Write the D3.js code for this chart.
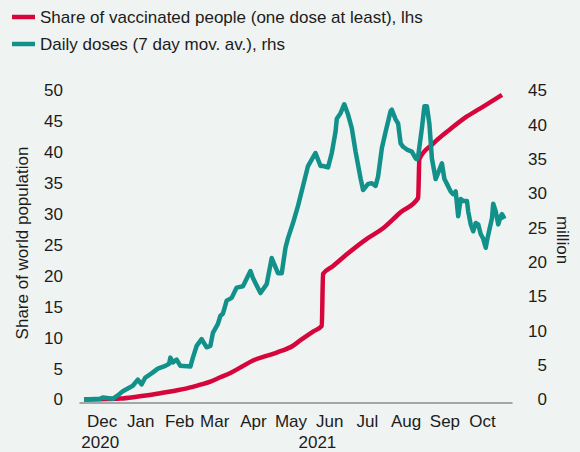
<!DOCTYPE html>
<html>
<head>
<meta charset="utf-8">
<script src="https://cdn.jsdelivr.net/npm/d3@7"></script>
<style>
  html, body { margin: 0; padding: 0; background: #eff3f2; }
  svg { display: block; font-family: "Liberation Sans", Arial, sans-serif; }
</style>
</head>
<body>
<svg id="chart" width="580" height="452"></svg>
<script>
// ---- Data ----
const shareDates = ["2020-12-01","2020-12-14","2020-12-30","2021-01-12","2021-01-25","2021-02-08","2021-02-21","2021-03-04","2021-03-12","2021-03-20","2021-03-28","2021-04-06","2021-04-15","2021-04-25","2021-05-04","2021-05-17","2021-05-23","2021-06-02","2021-06-09","2021-06-10","2021-06-18","2021-06-29","2021-07-15","2021-07-28","2021-08-11","2021-08-25","2021-08-26","2021-09-06","2021-09-20","2021-10-03","2021-10-16","2021-10-31"];
const shareValues = [0,0.05,0.16,0.45,0.8,1.3,1.8,2.4,2.9,3.6,4.3,5.3,6.3,7.0,7.6,8.7,9.6,11.0,11.9,20.3,21.6,23.5,26.0,27.7,30.3,32.6,38.9,41.4,43.8,45.8,47.4,49.3];

const dosesDates = ["2020-12-01","2020-12-14","2020-12-16","2020-12-24","2020-12-28","2021-01-01","2021-01-05","2021-01-09","2021-01-13","2021-01-16","2021-01-19","2021-01-24","2021-01-29","2021-02-04","2021-02-07","2021-02-08","2021-02-10","2021-02-13","2021-02-16","2021-02-24","2021-02-26","2021-03-01","2021-03-05","2021-03-09","2021-03-12","2021-03-14","2021-03-18","2021-03-20","2021-03-22","2021-03-25","2021-03-29","2021-04-02","2021-04-07","2021-04-13","2021-04-15","2021-04-21","2021-04-26","2021-04-30","2021-05-05","2021-05-08","2021-05-11","2021-05-13","2021-05-17","2021-05-21","2021-05-25","2021-05-29","2021-06-04","2021-06-05","2021-06-08","2021-06-10","2021-06-14","2021-06-17","2021-06-20","2021-06-21","2021-06-24","2021-06-27","2021-06-30","2021-07-03","2021-07-06","2021-07-10","2021-07-12","2021-07-16","2021-07-19","2021-07-22","2021-07-24","2021-07-27","2021-07-30","2021-08-03","2021-08-04","2021-08-07","2021-08-09","2021-08-11","2021-08-13","2021-08-16","2021-08-20","2021-08-23","2021-08-24","2021-08-25","2021-08-28","2021-08-30","2021-09-01","2021-09-03","2021-09-05","2021-09-08","2021-09-10","2021-09-13","2021-09-15","2021-09-17","2021-09-20","2021-09-22","2021-09-24","2021-09-26","2021-09-28","2021-09-30","2021-10-03","2021-10-04","2021-10-06","2021-10-08","2021-10-10","2021-10-12","2021-10-14","2021-10-16","2021-10-18","2021-10-19","2021-10-21","2021-10-23","2021-10-24","2021-10-26","2021-10-28","2021-10-30","2021-10-31","2021-11-02"];
const dosesValues = [0,0.1,0.3,0.1,0.6,1.2,1.6,2.0,2.9,2.2,3.2,3.8,4.5,4.9,5.2,6.1,5.4,5.8,4.9,4.8,6.1,7.8,8.8,7.6,7.8,9.7,11.0,12.2,12.5,14.4,14.8,16.3,16.5,18.7,17.7,15.5,16.8,20.6,18.4,18.4,22.1,23.5,25.7,28.2,31.1,34.0,35.9,35.4,34.0,34.0,33.8,35.9,39.0,40.9,41.7,43.0,41.5,39.5,36.1,32.2,30.5,31.4,31.5,31.1,32.5,36.6,39.0,42.0,42.2,40.8,40.2,37.3,36.8,36.4,36.1,35.1,35.0,35.4,39.5,42.7,42.7,40.1,35.1,32.1,33.0,34.4,32.1,31.4,30.3,29.9,30.3,26.7,29.2,28.9,28.9,27.4,25.5,24.5,25.7,25.5,24.1,23.4,22.1,23.1,24.8,26.4,28.5,27.4,25.5,26.7,27.0,26.3];

const leftTicks = [0,5,10,15,20,25,30,35,40,45,50];
const rightTicks = [0,5,10,15,20,25,30,35,40,45];
const monthTickDates = ["2020-12-15","2021-01-15","2021-02-15","2021-03-15","2021-04-15","2021-05-15","2021-06-15","2021-07-15","2021-08-15","2021-09-15","2021-10-15"];
const yearLabels = ["2020","2021"];
const yearCenters = [["2020-11-27","2020-12-31"],["2021-01-01","2021-11-08"]];
const legendLabels = ["Share of vaccinated people (one dose at least), lhs","Daily doses (7 day mov. av.), rhs"];
const axisTitles = ["Share of world population","million"];
const xDomain = ["2020-11-27","2021-11-08"];

// ---- Setup ----
const parse = d3.timeParse("%Y-%m-%d");
const RED = "#d6063c", TEAL = "#12918a", TXT = "#1c1c1c";
const FS = 17;
const FONT = "Liberation Sans, Arial, sans-serif";
const svg = d3.select("#chart");

const x = d3.scaleTime().domain(xDomain.map(parse)).range([79, 512]);
const yL = d3.scaleLinear().domain([0, 50]).range([399.5, 90.5]);
const yR = d3.scaleLinear().domain([0, 45]).range([399.5, 90.5]);

// x axis
const xAxis = d3.axisBottom(x)
  .tickValues(monthTickDates.map(parse))
  .tickFormat(d3.timeFormat("%b"))
  .tickSize(0).tickPadding(12.5);
const gx = svg.append("g").attr("transform", "translate(0,402.5)").call(xAxis);
gx.select(".domain").attr("stroke", "#8c8c8c").attr("stroke-width", 1.5);
gx.selectAll("text").attr("fill", TXT).attr("font-size", FS).attr("font-family", FONT);

svg.append("g").selectAll("text").data(yearLabels).join("text")
  .attr("x", (d, i) => (x(parse(yearCenters[i][0])) + x(parse(yearCenters[i][1]))) / 2)
  .attr("y", 448).attr("text-anchor", "middle").attr("fill", TXT).attr("font-size", FS)
  .text(d => d);

// left axis
const gl = svg.append("g").attr("transform", "translate(63,0)")
  .call(d3.axisLeft(yL).tickValues(leftTicks).tickSize(0).tickPadding(0));
gl.select(".domain").remove();
gl.selectAll("text").attr("fill", TXT).attr("font-size", FS).attr("font-family", FONT);

// right axis
const gr = svg.append("g").attr("transform", "translate(547,0)")
  .call(d3.axisRight(yR).tickValues(rightTicks).tickSize(0).tickPadding(0));
gr.select(".domain").remove();
gr.selectAll("text").attr("text-anchor", "end").attr("x", 0).attr("fill", TXT).attr("font-size", FS).attr("font-family", FONT);

// axis titles
svg.append("text").attr("transform", "translate(28,243) rotate(-90)")
  .attr("text-anchor", "middle").attr("fill", TXT).attr("font-size", FS).text(axisTitles[0]);
svg.append("text").attr("transform", "translate(557,240) rotate(90)")
  .attr("text-anchor", "middle").attr("fill", TXT).attr("font-size", FS).text(axisTitles[1]);

// lines
const shareData = shareDates.map((d, i) => ({ date: parse(d), v: shareValues[i] }));
const dosesData = dosesDates.map((d, i) => ({ date: parse(d), v: dosesValues[i] }));

svg.append("path").datum(shareData)
  .attr("fill", "none").attr("stroke", RED).attr("stroke-width", 4.5)
  .attr("stroke-linejoin", "round")
  .attr("d", d3.line().curve(d3.curveMonotoneX).x(d => x(d.date)).y(d => yL(d.v)));
svg.append("path").datum(dosesData)
  .attr("fill", "none").attr("stroke", TEAL).attr("stroke-width", 4.5)
  .attr("stroke-linejoin", "round")
  .attr("d", d3.line().x(d => x(d.date)).y(d => yR(d.v)));

// legend
const colors = [RED, TEAL];
const lg = svg.append("g");
legendLabels.forEach((t, i) => {
  const yy = 17 + i * 27;
  lg.append("line").attr("x1", 12).attr("x2", 35).attr("y1", yy).attr("y2", yy)
    .attr("stroke", colors[i]).attr("stroke-width", 4.5);
  lg.append("text").attr("x", 40).attr("y", yy + 6).attr("fill", TXT).attr("font-size", FS).text(t);
});
</script>
</body>
</html>
